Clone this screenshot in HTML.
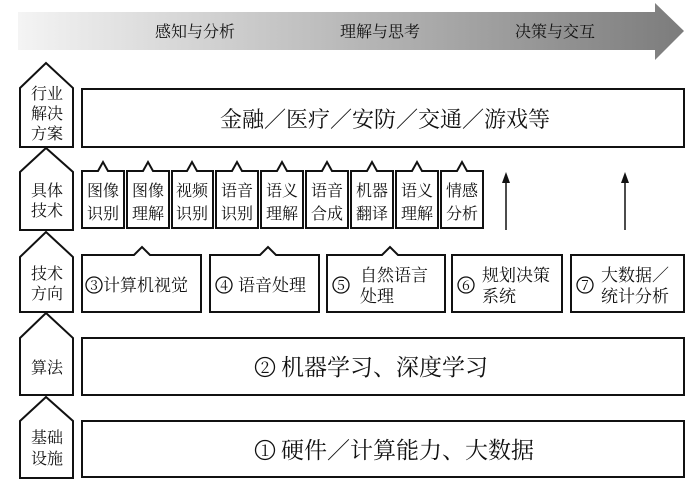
<!DOCTYPE html>
<html><head><meta charset="utf-8"><style>
html,body{margin:0;padding:0;background:#fff;}
svg{display:block;}
text{font-family:"Noto Serif CJK SC","Liberation Serif",serif;fill:#111;}
</style></head><body>
<svg width="700" height="485" viewBox="0 0 700 485" xmlns="http://www.w3.org/2000/svg">
<defs>
<linearGradient id="g" x1="0" x2="1" y1="0" y2="0">
<stop offset="0" stop-color="#f4f4f4"/><stop offset="1" stop-color="#7c7c7c"/>
</linearGradient>
</defs>
<polygon points="18,12 655,12 655,3 684,31 655,60 655,50 18,50" fill="url(#g)"/>
<text x="195" y="37" font-size="16" text-anchor="middle">感知与分析</text>
<text x="380" y="37" font-size="16" text-anchor="middle">理解与思考</text>
<text x="555" y="37" font-size="16" text-anchor="middle">决策与交互</text>

<g fill="#fff" stroke="#111" stroke-width="2">
<polygon points="20,88 46,63 73,88 73,147 20,147"/>
<polygon points="20,172 46,148 73,172 73,230 20,230"/>
<polygon points="20,257 46,232 73,257 73,312 20,312"/>
<polygon points="20,338 46,313 73,338 73,395 20,395"/>
<polygon points="20,421 46,397 73,421 73,478 20,478"/>
<rect x="82" y="89" width="602" height="58"/>
<rect x="82" y="338" width="602" height="57"/>
<rect x="82" y="421" width="602" height="56"/>
</g>
<g font-size="16" text-anchor="middle">
<text x="47" y="99">行业</text><text x="47" y="119">解决</text><text x="47" y="139">方案</text>
<text x="47" y="196">具体</text><text x="47" y="216">技术</text>
<text x="47" y="279">技术</text><text x="47" y="299">方向</text>
<text x="47" y="373">算法</text>
<text x="47" y="443">基础</text><text x="47" y="464">设施</text>
</g>
<g font-size="22">
<text x="385" y="127" text-anchor="middle">金融／医疗／安防／交通／游戏等</text>
<text x="281" y="375" font-size="23">机器学习、深度学习</text>
<text x="281" y="458" font-size="23">硬件／计算能力、大数据</text>
</g>
<g fill="none" stroke="#111" stroke-width="1.3">
<circle cx="265" cy="367" r="9.5"/>
<circle cx="265" cy="450" r="9.5"/>
</g>
<g font-family="Liberation Serif" text-anchor="middle">
<text x="265" y="373" font-size="16">2</text>
<text x="265" y="456" font-size="16">1</text>
</g>

<g fill="#fff" stroke="#111" stroke-width="2">
<polygon points="82,171 98,171 103,162 108,171 124,171 124,228 82,228"/>
<polygon points="127,171 143,171 148,162 153,171 169,171 169,228 127,228"/>
<polygon points="172,171 187,171 192,162 197,171 213,171 213,228 172,228"/>
<polygon points="216,171 232,171 237,162 242,171 258,171 258,228 216,228"/>
<polygon points="261,171 277,171 282,162 287,171 303,171 303,228 261,228"/>
<polygon points="306,171 322,171 327,162 332,171 348,171 348,228 306,228"/>
<polygon points="351,171 367,171 372,162 377,171 393,171 393,228 351,228"/>
<polygon points="396,171 412,171 417,162 422,171 438,171 438,228 396,228"/>
<polygon points="441,171 457,171 462,162 467,171 483,171 483,228 441,228"/>
</g>
<g font-size="16" text-anchor="middle">
<text x="103" y="196">图像</text><text x="103" y="219">识别</text>
<text x="148" y="196">图像</text><text x="148" y="219">理解</text>
<text x="192" y="196">视频</text><text x="192" y="219">识别</text>
<text x="237" y="196">语音</text><text x="237" y="219">识别</text>
<text x="282" y="196">语义</text><text x="282" y="219">理解</text>
<text x="327" y="196">语音</text><text x="327" y="219">合成</text>
<text x="372" y="196">机器</text><text x="372" y="219">翻译</text>
<text x="417" y="196">语义</text><text x="417" y="219">理解</text>
<text x="462" y="196">情感</text><text x="462" y="219">分析</text>
</g>
<g stroke="#111" stroke-width="1.5">
<line x1="506" y1="230" x2="506" y2="180"/>
<line x1="625" y1="230" x2="625" y2="180"/>
</g>
<polygon points="506,172 502,183 510,183" fill="#111"/>
<polygon points="625,172 621,183 629,183" fill="#111"/>

<g fill="#fff" stroke="#111" stroke-width="2">
<polygon points="82,255 134,255 142,247 150,255 201,255 201,312 82,312"/>
<polygon points="210,255 260,255 268,247 276,255 319,255 319,312 210,312"/>
<polygon points="327,255 382,255 390,247 398,255 445,255 445,312 327,312"/>
<rect x="452" y="255" width="110" height="57"/>
<rect x="571" y="255" width="113" height="57"/>
</g>
<g fill="none" stroke="#111" stroke-width="1.3">
<circle cx="94" cy="285" r="8"/>
<circle cx="224" cy="285" r="8"/>
<circle cx="341" cy="285" r="8"/>
<circle cx="466" cy="285" r="8"/>
<circle cx="585" cy="285" r="8"/>
</g>
<g font-family="Liberation Serif" text-anchor="middle" font-size="14">
<text x="94" y="290">3</text>
<text x="224" y="290">4</text>
<text x="341" y="290">5</text>
<text x="466" y="290">6</text>
<text x="585" y="290">7</text>
</g>
<g font-size="17">
<text x="103" y="291">计算机视觉</text>
<text x="238" y="291">语音处理</text>
<text x="360" y="281">自然语言</text><text x="360" y="302">处理</text>
<text x="482" y="281">规划决策</text><text x="482" y="302">系统</text>
<text x="601" y="281">大数据／</text><text x="601" y="302">统计分析</text>
</g>
</svg>
</body></html>
